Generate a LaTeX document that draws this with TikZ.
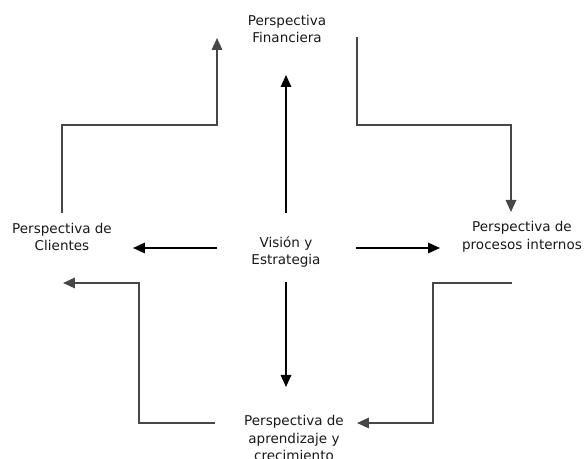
\documentclass[tikz,border=0pt]{standalone}
\usepackage{fontspec}
\setmainfont{DejaVu Sans}
\usetikzlibrary{arrows.meta}

\begin{document}
\begin{tikzpicture}[x=0.02cm, y=-0.02cm,
		persp/.style={align=center, font=\fontsize{7.7}{10}\selectfont, text=black!90, inner sep=2pt},
		arrow/.style={-{Triangle[length=2.4mm, width=2.1mm]}, line width=1pt, draw=black},
		route/.style={arrow, draw=black!72, line join=miter},
		]
		\useasboundingbox (0,0) rectangle (586,459);
		
		% Vision in the middle, four perspectives round it
		\node[persp] (vis) at (286,252) {Visión y\\Estrategia};
		\node[persp] (fin) at (287,29)  {Perspectiva\\Financiera};
		\node[persp] (cli) at (62,237)  {Perspectiva de\\Clientes};
		\node[persp] (pro) at (522,237) {Perspectiva de\\procesos internos};
		\node[persp] (apr) at (294,438) {Perspectiva de\\aprendizaje y\\crecimiento};
		
		% ends of the arrows leaving the vision
		\coordinate (visN) at (286,213); \coordinate (finS) at (286,75);
		\coordinate (visS) at (286,282); \coordinate (aprN) at (286,387);
		\coordinate (visW) at (217,248); \coordinate (cliE) at (133,248);
		\coordinate (visE) at (356,248); \coordinate (proW) at (440,248);
		
		\draw[arrow] (visN) -- (finS);
		\draw[arrow] (visS) -- (aprN);
		\draw[arrow] (visW) -- (cliE);
		\draw[arrow] (visE) -- (proW);
		
		% cycle round the outside
		\coordinate (cliN) at (62,213);  \coordinate (finW) at (217,38);
		\coordinate (finE) at (357,37);  \coordinate (proN) at (511,212);
		\coordinate (proS) at (512,283); \coordinate (aprE) at (357,423);
		\coordinate (aprW) at (215,423); \coordinate (cliS) at (63,283);
		
		\draw[route] (cliN) -- ++(0,-88) -| (finW);
		\draw[route] (finE) -- ++(0,88) -| (proN);
		\draw[route] (proS) -- ++(-79,0) |- (aprE);
		\draw[route] (aprW) -- ++(-76,0) |- (cliS);
	\end{tikzpicture}
\end{document}
